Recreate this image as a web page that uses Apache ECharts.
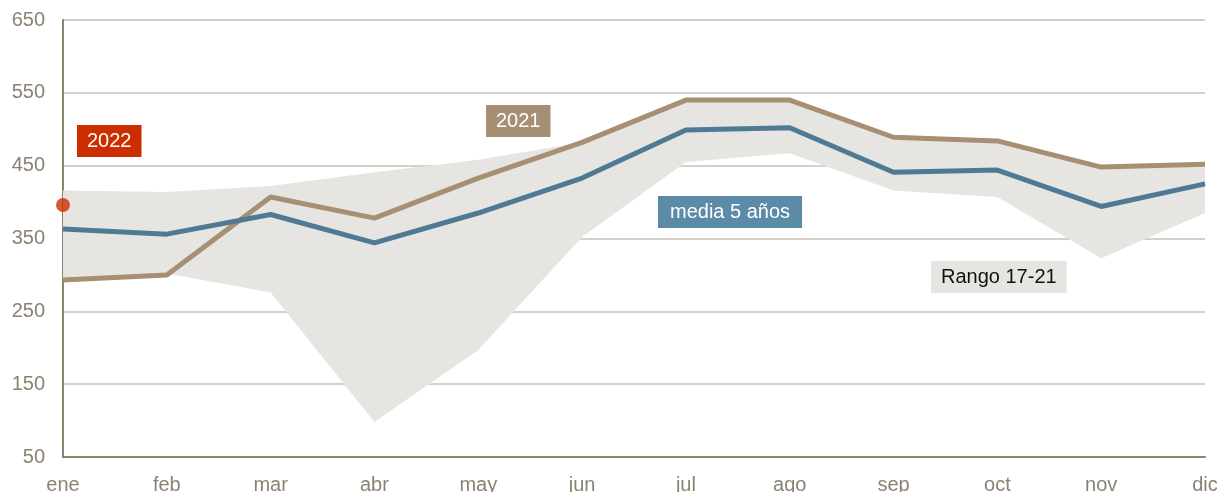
<!DOCTYPE html>
<html>
<head>
<meta charset="utf-8">
<script src="https://cdn.jsdelivr.net/npm/echarts@6/dist/echarts.min.js"></script>
<style>
  html, body { margin: 0; padding: 0; background: #fff; }
  #chart { width: 1228px; height: 492px; }
</style>
</head>
<body>
<div id="chart"></div>
<script>
  // datos
  const months = ['ene', 'feb', 'mar', 'abr', 'may', 'jun', 'jul', 'ago', 'sep', 'oct', 'nov', 'dic'];
  const year2021 = [293, 300, 407, 378, 433, 482, 540, 540, 489, 484, 448, 452];
  const media5 = [363, 356, 383, 344, 385, 433, 499, 502, 441, 444, 394, 425];
  const rangoLow = [293, 302, 276, 98, 197, 352, 455, 467, 416, 407, 323, 385];
  const rangoHigh = [416, 414, 422, 441, 458, 482, 540, 540, 489, 484, 448, 452];
  const year2022 = [396];

  const axisColor = '#8c8270';
  const labelColor = '#8a8272';
  const font = '"Liberation Sans", Arial, sans-serif';

  const chart = echarts.init(document.getElementById('chart'));

  const labelBox = (text, left, top, bg, fg, padX) => ({
    type: 'text',
    left: left,
    top: top,
    z: 100,
    style: {
      text: text,
      fill: fg,
      font: '20px ' + font,
      backgroundColor: bg,
      padding: [6, padX, 6, padX]
    }
  });

  const option = {
    animation: false,
    grid: { left: 63, right: 23, top: 20, bottom: 35, outerBoundsMode: 'none' },
    xAxis: {
      type: 'category',
      data: months,
      boundaryGap: false,
      axisLine: { lineStyle: { color: axisColor, width: 2 } },
      axisTick: { show: false },
      axisLabel: { color: labelColor, fontSize: 20, fontFamily: font, margin: 18 }
    },
    yAxis: {
      type: 'value',
      min: 50,
      max: 650,
      interval: 100,
      axisLine: { show: true, lineStyle: { color: axisColor, width: 2 } },
      axisTick: { show: false },
      axisLabel: { color: labelColor, fontSize: 20, fontFamily: font, margin: 18 },
      splitLine: { lineStyle: { color: '#c9c2b5', width: 1.5 } }
    },
    series: [
      {
        name: 'base',
        type: 'line',
        stack: 'rango',
        data: rangoLow,
        symbol: 'none',
        lineStyle: { opacity: 0 },
        areaStyle: { opacity: 0 },
        z: 1
      },
      {
        name: 'Rango 17-21',
        type: 'line',
        stack: 'rango',
        data: rangoHigh.map((v, i) => v - rangoLow[i]),
        symbol: 'none',
        lineStyle: { opacity: 0 },
        areaStyle: { color: '#e6e5e1', opacity: 1 },
        z: 1
      },
      {
        name: '2021',
        type: 'line',
        data: year2021,
        symbol: 'none',
        lineStyle: { color: '#a68f72', width: 5 },
        z: 3
      },
      {
        name: 'media 5 años',
        type: 'line',
        data: media5,
        symbol: 'none',
        lineStyle: { color: '#4f7a96', width: 5 },
        z: 4
      },
      {
        name: '2022',
        type: 'scatter',
        data: year2022,
        symbolSize: 14,
        itemStyle: { color: '#cc2e00' },
        z: 5
      }
    ],
    graphic: [
      labelBox('2022', 77, 125, '#cc2e00', '#ffffff', 10),
      labelBox('2021', 486, 105, '#a68f72', '#ffffff', 10),
      labelBox('media 5 años', 658, 196, '#5b8ba6', '#ffffff', 12),
      labelBox('Rango 17-21', 931, 261, '#e6e5e1', '#111111', 10)
    ]
  };

  chart.setOption(option);
</script>
</body>
</html>
